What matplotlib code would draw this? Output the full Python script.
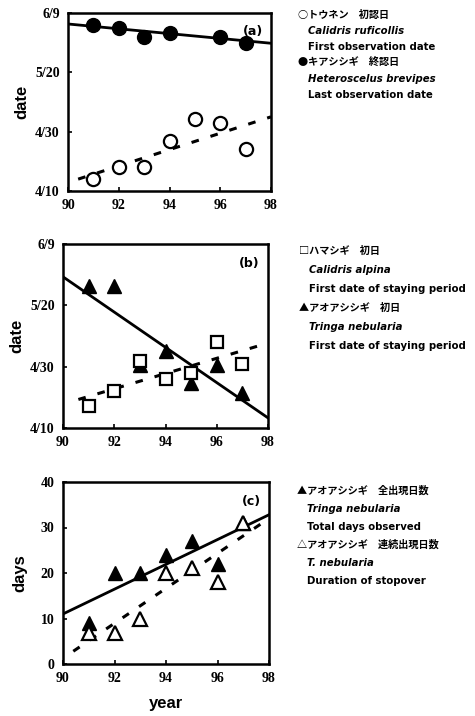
import matplotlib
matplotlib.use("Agg")
import matplotlib.pyplot as plt

# 图尺寸 (px)
W, H = 475, 716

# ---- data ----
years = [91, 92, 93, 94, 95, 96, 97]

# (a) トウネン 初認日 / キアシシギ 終認日  (days after 4/10)
a_first = [4.0, 8.2, 8.2, 17.0, 24.2, 23.0, 14.0]
a_last_years = [91, 92, 93, 94, 96, 97]
a_last = [55.9, 54.8, 51.8, 53.4, 52.0, 50.0]
a_solid_x, a_solid_y = [90, 98], [56.3, 49.8]
a_dash_x, a_dash_y = [90.4, 98], [4.0, 25.0]

# (b) ハマシギ 初日 / アオアシシギ 初日
b_square = [7.1, 12.0, 22.0, 16.1, 17.9, 28.0, 21.0]
b_tri = [46.2, 46.2, 20.7, 25.0, 14.7, 20.7, 11.4]
b_solid_x, b_solid_y = [90, 98], [49.3, 3.3]
b_dash_x, b_dash_y = [90.6, 98], [9.3, 27.7]

# (c) 全出現日数 / 連続出現日数
c_total = [9, 20, 20, 24, 27, 22, 31]
c_duration = [6.8, 6.8, 10, 20, 21, 18, 31]
c_solid_x, c_solid_y = [90, 98], [11.0, 32.8]
c_dash_x, c_dash_y = [90.4, 98], [2.8, 32.0]

x_ticks = [90, 92, 94, 96, 98]
date_ticks = [0, 20, 40, 60]
date_labels = ["4/10", "4/30", "5/20", "6/9"]
days_ticks = [0, 10, 20, 30, 40]

JP = ["Noto Sans CJK JP", "DejaVu Sans"]
TICKFONT = dict(family="Liberation Serif", weight="bold", size=10)

fig = plt.figure(figsize=(W / 100, H / 100), dpi=100)


def make_ax(left, right, top, bottom):
    ax = fig.add_axes([left / W, (H - bottom) / H, (right - left) / W, (bottom - top) / H])
    for s in ax.spines.values():
        s.set_linewidth(1.8)
    ax.tick_params(direction="in", length=3, width=1.2, pad=6)
    ax.set_xlim(90, 98)
    ax.set_xticks(x_ticks)
    ax.set_xticklabels([str(t) for t in x_ticks], fontdict=TICKFONT)
    return ax


def date_axis(ax):
    ax.set_ylim(0, 60)
    ax.set_yticks(date_ticks)
    ax.set_yticklabels(date_labels, fontdict=TICKFONT)


dash = (0, (2.5, 4))

# ---------- (a) ----------
ax = make_ax(68, 271, 13, 191)
date_axis(ax)
ax.plot(a_solid_x, a_solid_y, color="black", lw=2)
ax.plot(a_dash_x, a_dash_y, color="black", lw=2.2, ls=dash)
ax.plot(a_last_years, a_last, "o", ms=10, color="black")
ax.plot(years, a_first, "o", ms=9.5, mfc="white", mec="black", mew=1.6)
ax.text(0.96, 0.93, "(a)", transform=ax.transAxes, ha="right", va="top",
        fontsize=9, fontweight="bold", family="DejaVu Sans")
ax.set_ylabel("date", fontsize=12, fontweight="bold", family="Liberation Sans", labelpad=4)

# ---------- (b) ----------
ax = make_ax(63, 268, 244, 428)
date_axis(ax)
ax.plot(b_solid_x, b_solid_y, color="black", lw=2)
ax.plot(b_dash_x, b_dash_y, color="black", lw=2.2, ls=dash)
ax.plot(years, b_tri, "^", ms=10, color="black")
ax.plot(years, b_square, "s", ms=8.5, mfc="white", mec="black", mew=1.6)
ax.text(0.96, 0.93, "(b)", transform=ax.transAxes, ha="right", va="top",
        fontsize=9, fontweight="bold", family="DejaVu Sans")
ax.set_ylabel("date", fontsize=12, fontweight="bold", family="Liberation Sans", labelpad=4)

# ---------- (c) ----------
ax = make_ax(63, 269, 482, 664)
ax.set_ylim(0, 40)
ax.set_yticks(days_ticks)
ax.set_yticklabels([str(t) for t in days_ticks], fontdict=TICKFONT)
ax.plot(c_solid_x, c_solid_y, color="black", lw=2)
ax.plot(c_dash_x, c_dash_y, color="black", lw=2.2, ls=dash)
ax.plot(years, c_total, "^", ms=10, color="black")
ax.plot(years, c_duration, "^", ms=10, mfc="white", mec="black", mew=1.6)
ax.text(0.96, 0.93, "(c)", transform=ax.transAxes, ha="right", va="top",
        fontsize=9, fontweight="bold", family="DejaVu Sans")
ax.set_ylabel("days", fontsize=12, fontweight="bold", family="Liberation Sans", labelpad=10)
ax.set_xlabel("year", fontsize=12, fontweight="bold", family="Liberation Sans", labelpad=8)

# ---------- legend texts ----------
def legend_block(x0, y0, step, lines):
    for i, (txt, style) in enumerate(lines):
        x = x0 if style == "jp" else x0 + 10
        fam = JP if style == "jp" else "DejaVu Sans"
        st = "italic" if style == "it" else "normal"
        fig.text(x / W, 1 - (y0 + i * step) / H, txt, family=fam, style=st,
                 fontsize=7.3, fontweight="bold", va="center", ha="left")


legend_block(298, 15, 16, [
    ("○トウネン　初認日", "jp"),
    ("Calidris ruficollis", "it"),
    ("First observation date", "en"),
    ("●キアシシギ　終認日", "jp"),
    ("Heteroscelus brevipes", "it"),
    ("Last observation date", "en"),
])
legend_block(299, 251, 19, [
    ("□ハマシギ　初日", "jp"),
    ("Calidris alpina", "it"),
    ("First date of staying period", "en"),
    ("▲アオアシシギ　初日", "jp"),
    ("Tringa nebularia", "it"),
    ("First date of staying period", "en"),
])
legend_block(297, 491, 18, [
    ("▲アオアシシギ　全出現日数", "jp"),
    ("Tringa nebularia", "it"),
    ("Total days observed", "en"),
    ("△アオアシシギ　連続出現日数", "jp"),
    ("T. nebularia", "it"),
    ("Duration of stopover", "en"),
])

fig.savefig("out.png", dpi=100)
